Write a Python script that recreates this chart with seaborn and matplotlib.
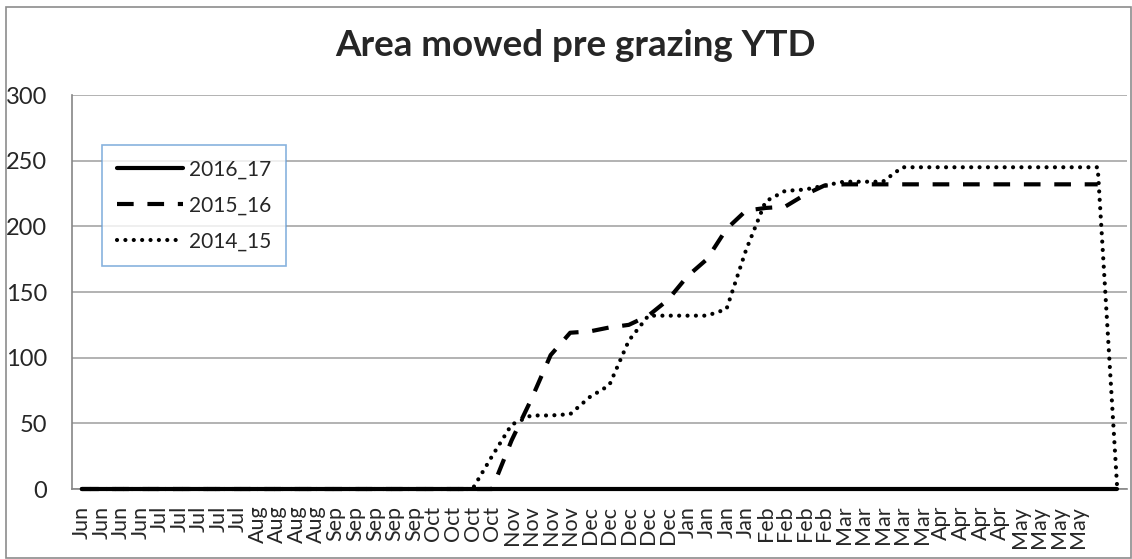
import numpy as np
import pandas as pd
import matplotlib
matplotlib.use("Agg")
import matplotlib.pyplot as plt
from matplotlib.patches import Rectangle
import seaborn as sns

# weekly categories Jun..May, two unlabeled slots at the end
months = ["Jun"] * 4 + ["Jul"] * 5 + ["Aug"] * 4 + ["Sep"] * 5 + ["Oct"] * 4 + ["Nov"] * 4 \
    + ["Dec"] * 5 + ["Jan"] * 4 + ["Feb"] * 4 + ["Mar"] * 5 + ["Apr"] * 4 + ["May"] * 4 + ["", ""]

s2016_17 = [0] * 54

s2015_16 = [0] * 22 + [37, 68, 102, 119, 120, 123, 125, 132, 144, 162, 175, 198, 212, 214, 215, 224, 231] \
    + [232] * 14 + [np.nan]

s2014_15 = [0] * 21 + [25, 49, 56, 56, 57, 70, 79, 113, 132, 132, 132, 132, 137, 182, 219, 227, 228, 231,
                       234, 234, 234] + [245] * 11 + [0]

series_names = ["2016_17", "2015_16", "2014_15"]

x = np.arange(len(months))
df = pd.DataFrame({
    "week": np.tile(x, 3),
    "value": s2016_17 + s2015_16 + s2014_15,
    "season": np.repeat(series_names, len(months)),
})

sns.set_style("white")
plt.rcParams["font.family"] = ["Lato", "DejaVu Sans"]

fig = plt.figure(figsize=(11.32, 5.59), dpi=100)
ax = fig.add_axes([0.0636, 0.1252, 0.9320, 0.7048])

lw = 3.0
styles = {
    "2016_17": dict(ls="-"),
    "2015_16": dict(ls=(0, (4.0, 3.3))),
    "2014_15": dict(ls=(0, (0.01, 2.0)), dash_capstyle="round"),
}
for name in series_names:
    sub = df[df["season"] == name].dropna()
    sns.lineplot(data=sub, x="week", y="value", ax=ax, color="black", lw=lw,
                 label=name, clip_on=False, zorder=5, **styles[name])

ax.set_xlim(-0.5, len(months) - 0.5)
ax.set_ylim(0, 300)
ax.set_yticks(range(0, 301, 50))
ax.yaxis.grid(True, color="#a6a6a6", lw=1.2)
ax.set_axisbelow(True)
ax.set_xticks(x)
ax.set_xticklabels(months, rotation=90, fontsize=15.5)
ax.set_xticks(np.arange(-0.5, len(months), 1), minor=True)
ax.tick_params(axis="x", which="major", length=0, pad=12)
ax.tick_params(axis="x", which="minor", length=7, color="#a6a6a6", direction="out", width=1)
ax.tick_params(axis="y", length=7, color="#a6a6a6", direction="out", labelsize=17, pad=11)
ax.set_xlabel("")
ax.set_ylabel("")
for side in ["top", "right"]:
    ax.spines[side].set_visible(False)
for side in ["left", "bottom"]:
    ax.spines[side].set_color("#868686")
    ax.spines[side].set_linewidth(1.2)

leg = ax.legend(loc="upper left", bbox_to_anchor=(0.0284, 0.873), frameon=True, fancybox=False,
                fontsize=15, handlelength=3.2, handletextpad=0.3, borderpad=0.7,
                labelspacing=0.76, borderaxespad=0)
leg.get_frame().set_edgecolor("#6a9fd6")
leg.get_frame().set_linewidth(1.2)
leg.set_zorder(10)

fig.text(0.508, 0.918, "Area mowed pre grazing YTD", ha="center", va="center",
         fontsize=26.5, fontweight="bold")

fig.patches.append(Rectangle((6 / 1132, 0.002), 1 - 7 / 1132, 1 - 8 / 559, transform=fig.transFigure,
                             fill=False, edgecolor="#8c8c8c", lw=1.2))

fig.savefig("out.png", dpi=100)
